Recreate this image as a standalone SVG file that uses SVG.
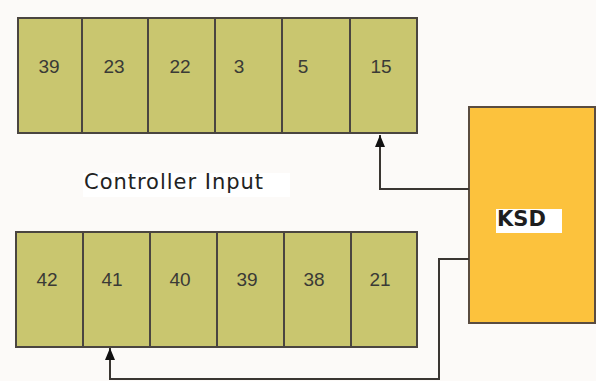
<svg xmlns="http://www.w3.org/2000/svg" width="596" height="381" viewBox="0 0 596 381">
<defs>
<style>
.cell{fill:#c9c66f;stroke:#4a4540;stroke-width:2}
.num{font-family:"Liberation Sans",Arial,sans-serif;font-size:19px;fill:#3a3a36;text-anchor:middle}
.conn{fill:none;stroke:#3a3632;stroke-width:2}
</style>
<marker id="arr" viewBox="0 0 12 10" refX="12" refY="5" markerWidth="12" markerHeight="10" markerUnits="userSpaceOnUse" orient="auto">
<path d="M0,0 L12,5 L0,10 Z" fill="#111"/>
</marker>
</defs>
<rect width="596" height="381" fill="#fcfaf8"/>
<g id="top-row">
<g id="t39"><rect class="cell" x="18" y="18" width="64" height="115"/><text class="num" x="49" y="73">39</text></g>
<g id="t23"><rect class="cell" x="82" y="18" width="66" height="115"/><text class="num" x="114" y="73">23</text></g>
<g id="t22"><rect class="cell" x="148" y="18" width="67" height="115"/><text class="num" x="180" y="73">22</text></g>
<g id="t3"><rect class="cell" x="215" y="18" width="67" height="115"/><text class="num" x="239" y="73">3</text></g>
<g id="t5"><rect class="cell" x="282" y="18" width="68" height="115"/><text class="num" x="303" y="73">5</text></g>
<g id="t15"><rect class="cell" x="350" y="18" width="67" height="115"/><text class="num" x="381" y="73">15</text></g>
</g>
<g id="bottom-row">
<g id="b42"><rect class="cell" x="16" y="232" width="67" height="115"/><text class="num" x="47" y="286">42</text></g>
<g id="b41"><rect class="cell" x="83" y="232" width="67" height="115"/><text class="num" x="112" y="286">41</text></g>
<g id="b40"><rect class="cell" x="150" y="232" width="67" height="115"/><text class="num" x="180" y="286">40</text></g>
<g id="b39"><rect class="cell" x="217" y="232" width="67" height="115"/><text class="num" x="247" y="286">39</text></g>
<g id="b38"><rect class="cell" x="284" y="232" width="67" height="115"/><text class="num" x="314" y="286">38</text></g>
<g id="b21"><rect class="cell" x="351" y="232" width="66" height="115"/><text class="num" x="380" y="286">21</text></g>
</g>
<g id="ksd">
<rect x="469" y="107" width="126" height="216" fill="#fcc23d" stroke="#5a4c40" stroke-width="2"/>
<rect x="496" y="209" width="66" height="24" fill="#ffffff"/>
<text x="497" y="225.5" font-family="'DejaVu Sans',Verdana,sans-serif" font-weight="bold" font-size="21" fill="#1e1e1e">KSD</text>
</g>
<g id="label">
<rect x="83" y="173" width="207" height="24" fill="#ffffff"/>
<text x="84" y="189" font-family="'DejaVu Sans',Verdana,sans-serif" font-size="21" textLength="179" fill="#222">Controller Input</text>
</g>
<g id="connectors">
<path class="conn" d="M469,189 H380 V135" marker-end="url(#arr)"/>
<path class="conn" d="M469,259 H439 V379 H110 V348" marker-end="url(#arr)"/>
</g>
</svg>
